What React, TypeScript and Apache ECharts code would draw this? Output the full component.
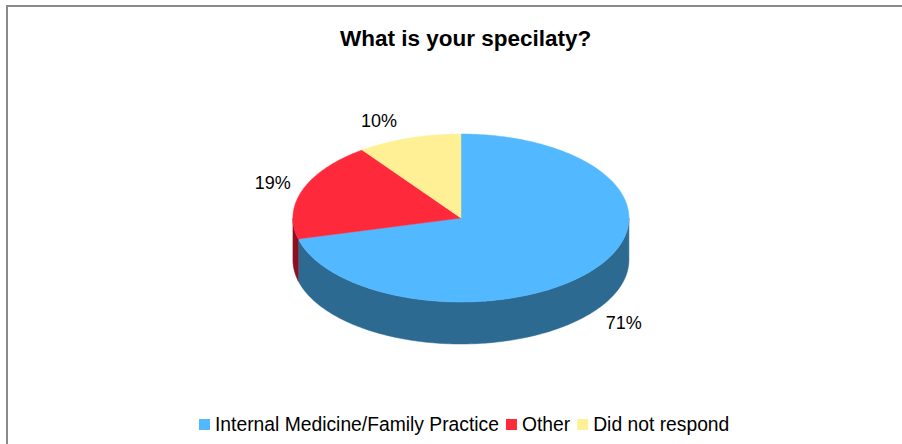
import React, { useEffect, useRef } from "react";
import * as echarts from "echarts";

const categories = ["Internal Medicine/Family Practice", "Other", "Did not respond"];
const values = [71, 19, 10];
const topColors = ["#52B8FF", "#FF293C", "#FFF096"];
const sideColors = ["#2C6A91", "#8C1020", "#A89A50"];

const FONT = "'Liberation Sans', Arial, sans-serif";

export default function App() {
  const ref = useRef<HTMLDivElement>(null);
  useEffect(() => {
    document.body.style.margin = "0";
    const chart = echarts.init(ref.current!, null, { renderer: "svg" });
    const total = values.reduce((a, b) => a + b, 0);
    const rad = (d: number) => (d * Math.PI) / 180;

    const renderItem = (params: any, api: any) => {
      const W = api.getWidth();
      const H = api.getHeight();
      const cx = W * 0.511;
      const cy = H * 0.491;
      const rx = 168;
      const ry = 84;
      const depth = 42;
      const idx = params.seriesIndex;
      let before = 0;
      for (let i = 0; i < idx; i++) before += values[i];
      const start = (before / total) * 360;
      const end = ((before + values[idx]) / total) * 360;
      const pt = (t: number, dy: number) => [
        cx + rx * Math.sin(rad(t)),
        cy - ry * Math.cos(rad(t)) + dy,
      ];
      const arc = (a: number, b: number, dy: number) => {
        const pts: number[][] = [];
        const n = Math.max(2, Math.ceil(Math.abs(b - a)));
        for (let k = 0; k <= n; k++) pts.push(pt(a + ((b - a) * k) / n, dy));
        return pts;
      };
      const children: any[] = [];
      const s = Math.max(start, 90);
      const e = Math.min(end, 270);
      if (s < e) {
        children.push({
          type: "polygon",
          shape: { points: [...arc(s, e, 0), ...arc(e, s, depth)] },
          style: { fill: sideColors[idx], stroke: sideColors[idx], lineWidth: 0.5 },
        });
      }
      children.push({
        type: "polygon",
        shape: { points: [[cx, cy], ...arc(start, end, 0)] },
        style: { fill: topColors[idx], stroke: topColors[idx], lineWidth: 0.5 },
      });
      const m = (start + end) / 2;
      const sn = Math.sin(rad(m));
      const cs = Math.cos(rad(m));
      const lx = cx + rx * sn + Math.sign(sn) * 30;
      const ly = cy - ry * cs + (cs < 0 ? depth : 0) - cs * 18;
      children.push({
        type: "text",
        style: {
          x: lx,
          y: ly,
          text: Math.round((values[idx] / total) * 100) + "%",
          fill: "#000",
          font: `18px ${FONT}`,
          align: "center",
          verticalAlign: "middle",
        },
      });
      return { type: "group", children };
    };

    chart.setOption({
      animation: false,
      backgroundColor: "#fff",
      title: {
        text: "What is your specilaty?",
        left: 335,
        top: 22,
        textStyle: { fontSize: 22.5, fontWeight: "bold", fontFamily: FONT, color: "#000" },
      },
      legend: {
        data: categories,
        bottom: 5,
        left: 194,
        icon: "rect",
        itemWidth: 11,
        itemHeight: 11,
        itemGap: 7,
        textStyle: { fontSize: 19.3, fontFamily: FONT, color: "#000" },
      },
      graphic: [
        {
          type: "rect",
          shape: { x: 7, y: 6, width: 1200, height: 1200 },
          style: { fill: "none", stroke: "#8a8a8a", lineWidth: 2 },
          silent: true,
        },
      ],
      series: categories.map((name, i) => ({
        type: "custom",
        name,
        coordinateSystem: "none",
        itemStyle: { color: topColors[i] },
        data: [values[i]],
        renderItem,
      })),
    });
    return () => chart.dispose();
  }, []);
  return <div ref={ref} style={{ width: 902, height: 444 }} />;
}
